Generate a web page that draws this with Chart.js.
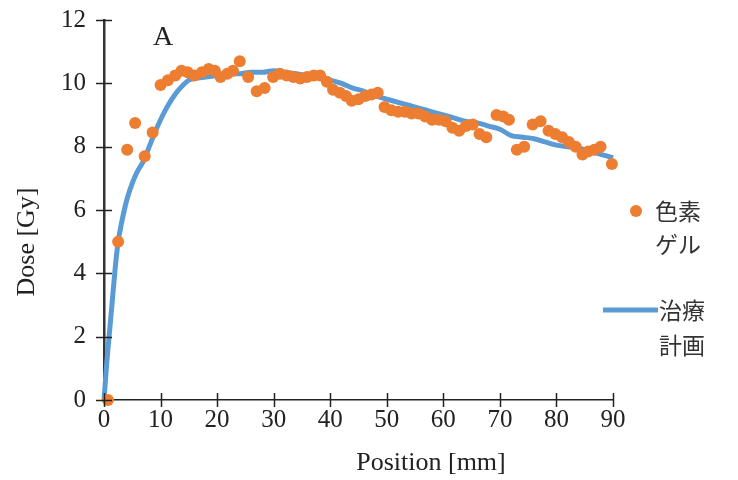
<!DOCTYPE html>
<html>
<head>
<meta charset="utf-8">
<script src="https://cdn.jsdelivr.net/npm/chart.js@4"></script>
<style>
  html, body { margin: 0; padding: 0; background: #fff; }
</style>
</head>
<body>
<canvas id="doseChart" width="738" height="480"></canvas>
<script>
// 色素ゲル (measured) - position [mm] and dose [Gy]
const gelPos = [0.7, 2.5, 4.1, 5.5, 7.2, 8.6, 10.0, 11.3, 12.6, 13.7, 14.8, 16.0, 17.3, 18.5, 19.6,
  20.6, 21.8, 22.8, 24.0, 25.5, 27.0, 28.4, 29.9, 31.1, 32.3, 33.5, 34.7, 35.9, 37.1, 38.2, 39.4,
  40.5, 41.7, 42.8, 43.8, 45.0, 46.2, 47.3, 48.4, 49.6, 50.8, 52.0, 53.2, 54.4, 55.6, 56.8, 58.0,
  59.2, 60.4, 61.6, 62.8, 64.0, 65.2, 66.4, 67.6, 69.4, 70.6, 71.6, 73.0, 74.3, 75.8, 77.2, 78.6,
  79.8, 81.0, 82.2, 83.4, 84.6, 85.6, 86.7, 87.8, 89.8]
const gelDose = [0, 5.0, 7.9, 8.75, 7.7, 8.45, 9.95, 10.1, 10.25, 10.4, 10.35, 10.25, 10.35, 10.45, 10.4,
  10.2, 10.3, 10.4, 10.7, 10.2, 9.75, 9.85, 10.2, 10.3, 10.25, 10.2, 10.15, 10.2, 10.25, 10.25, 10.05,
  9.8, 9.7, 9.6, 9.45, 9.5, 9.6, 9.65, 9.7, 9.25, 9.15, 9.1, 9.1, 9.05, 9.05, 8.95, 8.85,
  8.85, 8.8, 8.6, 8.5, 8.65, 8.7, 8.4, 8.3, 9.0, 8.95, 8.85, 7.9, 8.0, 8.7, 8.8, 8.5,
  8.4, 8.3, 8.15, 8.0, 7.75, 7.85, 7.9, 8.0, 7.45]

// 治療計画 (plan)
const planPos = [0, 0.5, 1, 1.5, 2, 2.5, 3, 4, 5, 6, 7, 8, 9, 10, 11, 12, 13, 14, 15, 16, 18, 20, 22,
  24, 26, 28, 30, 32, 34, 36, 38, 40, 42, 44, 46, 48, 50, 52, 54, 56, 58, 60, 62, 64, 66, 68, 70,
  72, 74, 76, 78, 80, 82, 84, 86, 88, 90]
const planDose = [0, 1.2, 2.2, 3.2, 4.2, 5.0, 5.5, 6.3, 6.85, 7.25, 7.55, 8.0, 8.45, 8.85, 9.2, 9.5,
  9.75, 9.95, 10.1, 10.15, 10.2, 10.25, 10.3, 10.3, 10.35, 10.35, 10.4, 10.35, 10.3, 10.25, 10.2,
  10.1, 10.0, 9.85, 9.75, 9.6, 9.5, 9.4, 9.3, 9.2, 9.1, 9.0, 8.9, 8.8, 8.75, 8.65, 8.55, 8.35,
  8.3, 8.25, 8.15, 8.05, 8.0, 7.95, 7.85, 7.75, 7.65]

const xTicks = [0, 10, 20, 30, 40, 50, 60, 70, 80, 90]
const yTicks = [0, 2, 4, 6, 8, 10, 12]

const seriesNames = ['色素ゲル', '治療計画']
const legendLines = [['色素', 'ゲル'], ['治療', '計画']]

const orange = '#ED7D31'
const blue = '#5B9BD5'
const serif = '"Liberation Serif", "DejaVu Serif", serif'
const jpFont = '"Noto Sans CJK JP", sans-serif'

// tick marks crossing the axes, axis titles, the "A" tag and the legend
const decorPlugin = {
  id: 'decor',
  afterDraw(chart) {
    const ctx = chart.ctx
    const xs = chart.scales.x
    const ys = chart.scales.y
    const area = chart.chartArea
    ctx.save()
    ctx.strokeStyle = '#222'
    ctx.lineWidth = 1.5
    xTicks.forEach(v => {
      const px = Math.round(xs.getPixelForValue(v)) + 0.5
      ctx.beginPath()
      ctx.moveTo(px, area.bottom - 7)
      ctx.lineTo(px, area.bottom + 7)
      ctx.stroke()
    })
    yTicks.forEach(v => {
      const py = Math.round(ys.getPixelForValue(v)) + 0.5
      ctx.beginPath()
      ctx.moveTo(area.left - 8, py)
      ctx.lineTo(area.left + 8, py)
      ctx.stroke()
    })

    ctx.fillStyle = '#222'
    ctx.font = '26px ' + serif
    ctx.textAlign = 'center'
    ctx.textBaseline = 'middle'
    ctx.fillText('Position [mm]', 431, 463)

    ctx.save()
    ctx.translate(27, 242)
    ctx.rotate(-Math.PI / 2)
    ctx.fillText('Dose [Gy]', 0, 0)
    ctx.restore()

    ctx.font = '28px ' + serif
    ctx.fillText('A', 163, 38)

    // legend
    ctx.font = '23px ' + jpFont
    ctx.textAlign = 'left'
    ctx.fillStyle = orange
    ctx.beginPath()
    ctx.arc(636, 211, 6, 0, Math.PI * 2)
    ctx.fill()
    ctx.fillStyle = '#333'
    ctx.fillText(legendLines[0][0], 655, 211)
    ctx.fillText(legendLines[0][1], 655, 244)

    ctx.strokeStyle = blue
    ctx.lineWidth = 5
    ctx.beginPath()
    ctx.moveTo(603, 310)
    ctx.lineTo(658, 310)
    ctx.stroke()
    ctx.fillText(legendLines[1][0], 659, 310)
    ctx.fillText(legendLines[1][1], 659, 345)
    ctx.restore()
  }
}

const gelData = gelPos.map((x, i) => ({ x: x, y: gelDose[i] }))
const planData = planPos.map((x, i) => ({ x: x, y: planDose[i] }))

new Chart(document.getElementById('doseChart'), {
  type: 'scatter',
  data: {
    datasets: [
      {
        label: seriesNames[0],
        data: gelData,
        backgroundColor: orange,
        borderColor: orange,
        pointRadius: 6,
        pointBorderWidth: 0,
        showLine: false,
        clip: false,
        order: 0,
      },
      {
        label: seriesNames[1],
        data: planData,
        borderColor: blue,
        backgroundColor: blue,
        borderWidth: 5,
        pointRadius: 0,
        showLine: true,
        cubicInterpolationMode: 'monotone',
        clip: false,
        order: 1,
      },
    ],
  },
  options: {
    responsive: false,
    animation: false,
    layout: { padding: { left: 0, right: 125, top: 20, bottom: 0 } },
    plugins: {
      legend: { display: false },
      tooltip: { enabled: false },
    },
    scales: {
      x: {
        type: 'linear',
        min: 0,
        max: 90,
        afterFit(scale) {
          scale.height = 80
          scale.paddingLeft = 0
          scale.paddingRight = 0
        },
        afterBuildTicks(scale) { scale.ticks = xTicks.map(v => ({ value: v })) },
        ticks: { padding: 5, color: '#222', font: { family: serif, size: 25 } },
        grid: { display: false, drawTicks: false },
        border: { display: true, color: '#222', width: 1.5 },
      },
      y: {
        min: 0,
        max: 12,
        afterFit(scale) {
          scale.width = 104
          scale.paddingTop = 0
          scale.paddingBottom = 0
        },
        afterBuildTicks(scale) { scale.ticks = yTicks.map(v => ({ value: v })) },
        ticks: { padding: 18, color: '#222', font: { family: serif, size: 25 } },
        grid: { display: false, drawTicks: false },
        border: { display: true, color: '#333', width: 2.5 },
      },
    },
  },
  plugins: [decorPlugin],
})
</script>
</body>
</html>
